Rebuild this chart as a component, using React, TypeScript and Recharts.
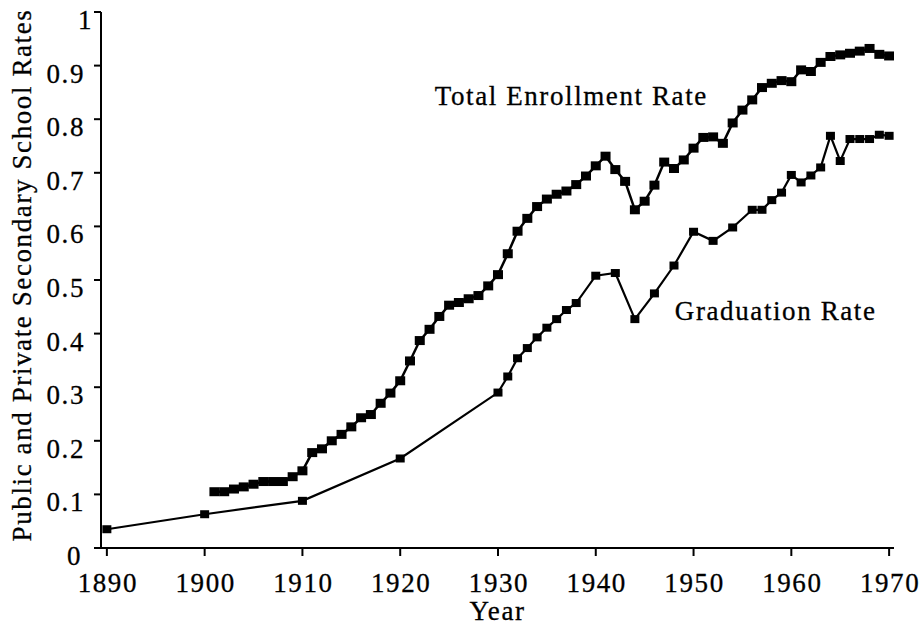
import { LineChart, Line, XAxis, YAxis, ReferenceDot, Label } from 'recharts';

const enrollYears = [
  1901, 1902, 1903, 1904, 1905, 1906, 1907, 1908, 1909, 1910,
  1911, 1912, 1913, 1914, 1915, 1916, 1917, 1918, 1919, 1920,
  1921, 1922, 1923, 1924, 1925, 1926, 1927, 1928, 1929, 1930,
  1931, 1932, 1933, 1934, 1935, 1936, 1937, 1938, 1939, 1940,
  1941, 1942, 1943, 1944, 1945, 1946, 1947, 1948, 1949, 1950,
  1951, 1952, 1953, 1954, 1955, 1956, 1957, 1958, 1959, 1960,
  1961, 1962, 1963, 1964, 1965, 1966, 1967, 1968, 1969, 1970,
];
const enrollRates = [
  0.105, 0.105, 0.110, 0.114, 0.119, 0.124, 0.124, 0.124, 0.133, 0.144,
  0.178, 0.185, 0.200, 0.212, 0.226, 0.243, 0.249, 0.270, 0.289, 0.312,
  0.349, 0.387, 0.408, 0.432, 0.453, 0.458, 0.465, 0.471, 0.489, 0.510,
  0.549, 0.591, 0.615, 0.637, 0.651, 0.660, 0.666, 0.678, 0.694, 0.713,
  0.731, 0.706, 0.684, 0.631, 0.647, 0.677, 0.720, 0.708, 0.724, 0.746,
  0.766, 0.767, 0.755, 0.793, 0.817, 0.836, 0.859, 0.867, 0.872, 0.870,
  0.892, 0.889, 0.906, 0.917, 0.920, 0.923, 0.927, 0.932, 0.921, 0.918,
];

const gradYears = [
  1890, 1900, 1910, 1920, 1930, 1931, 1932, 1933, 1934, 1935, 1936, 1937, 1938,
  1940, 1942, 1944, 1946, 1948, 1950, 1952, 1954, 1956, 1957, 1958, 1959,
  1960, 1961, 1962, 1963, 1964, 1965, 1966, 1967, 1968, 1969, 1970,
];
const gradRates = [
  0.035, 0.063, 0.088, 0.167, 0.290, 0.320, 0.354, 0.373, 0.393, 0.411, 0.427, 0.444, 0.457,
  0.508, 0.513, 0.427, 0.475, 0.527, 0.590, 0.573, 0.598, 0.631, 0.631, 0.649, 0.663,
  0.696, 0.682, 0.695, 0.710, 0.769, 0.722, 0.763, 0.763, 0.763, 0.771, 0.769,
];

const xTicks = [1890, 1900, 1910, 1920, 1930, 1940, 1950, 1960, 1970];
const yTicks = [0, 0.1, 0.2, 0.3, 0.4, 0.5, 0.6, 0.7, 0.8, 0.9, 1];

const enrollData = enrollYears.map((year, i) => ({ year, rate: enrollRates[i] }));
const gradData = gradYears.map((year, i) => ({ year, rate: gradRates[i] }));

const FONT = '"Liberation Serif", "Times New Roman", serif';
const textStyle = { fontFamily: FONT, fontSize: 27, letterSpacing: 1.6, fill: '#000', stroke: '#000', strokeWidth: 0.3 };

const squareDot = (w: number, h: number) => (props: any) => {
  const { cx, cy, index } = props;
  if (cx == null || cy == null) return <g key={index} />;
  return <rect key={index} x={cx - w / 2} y={cy - h / 2} width={w} height={h} fill="#000" />;
};

const YTick = (props: any) => {
  const { x, y, payload } = props;
  const v = payload.value;
  const dx = v === 1 ? 8 : v === 0 ? -3 : 0;
  const label = v === 0 ? '0' : v === 1 ? '1' : v.toFixed(1);
  return (
    <text x={x + dx} y={y + 17} textAnchor="end" style={textStyle}>
      {label}
    </text>
  );
};

const XTick = (props: any) => {
  const { x, y, payload } = props;
  return (
    <text x={x + 1} y={y + 36} textAnchor="middle" style={textStyle}>
      {payload.value}
    </text>
  );
};

const seriesLabel = (text: string) => (props: any) => (
  <text x={props.cx} y={props.cy} textAnchor="middle" style={textStyle}>
    {text}
  </text>
);

export default function App() {
  return (
    <div style={{ position: 'absolute', left: 0, top: 0, width: 922, height: 627, background: '#fff' }}>
      <LineChart width={922} height={627} margin={{ top: 12, right: 28, bottom: 0, left: 0 }}>
        <XAxis
          dataKey="year"
          type="number"
          domain={[1889.4, 1970.5]}
          ticks={xTicks}
          allowDataOverflow
          height={79}
          tickSize={8}
          tickMargin={0}
          tick={<XTick />}
          axisLine={{ stroke: '#000', strokeWidth: 2 }}
          tickLine={{ stroke: '#000', strokeWidth: 2 }}
        >
          <Label
            content={(p: any) => {
              const vb = p.viewBox;
              return (
                <text x={vb.x + vb.width / 2} y={vb.y + vb.height - 7} textAnchor="middle" style={textStyle}>
                  Year
                </text>
              );
            }}
          />
        </XAxis>
        <YAxis
          type="number"
          domain={[0, 1]}
          ticks={yTicks}
          width={101}
          tickSize={7}
          tickMargin={9}
          tick={<YTick />}
          axisLine={{ stroke: '#000', strokeWidth: 2 }}
          tickLine={{ stroke: '#000', strokeWidth: 2 }}
        >
          <Label
            content={(p: any) => {
              const vb = p.viewBox;
              const cx = 31;
              const cy = vb.y + vb.height / 2 - 5;
              return (
                <text x={cx} y={cy} textAnchor="middle" transform={`rotate(-90, ${cx}, ${cy})`} style={textStyle}>
                  Public and Private Secondary School Rates
                </text>
              );
            }}
          />
        </YAxis>
        <Line
          data={gradData}
          dataKey="rate"
          type="linear"
          stroke="#000"
          strokeWidth={2.2}
          dot={squareDot(9, 8)}
          activeDot={false}
          isAnimationActive={false}
        />
        <Line
          data={enrollData}
          dataKey="rate"
          type="linear"
          stroke="#000"
          strokeWidth={2.5}
          dot={squareDot(10, 9)}
          activeDot={false}
          isAnimationActive={false}
        />
        <ReferenceDot x={1937.5} y={0.826} shape={seriesLabel('Total Enrollment Rate')} />
        <ReferenceDot x={1958.4} y={0.425} shape={seriesLabel('Graduation Rate')} />
      </LineChart>
    </div>
  );
}
